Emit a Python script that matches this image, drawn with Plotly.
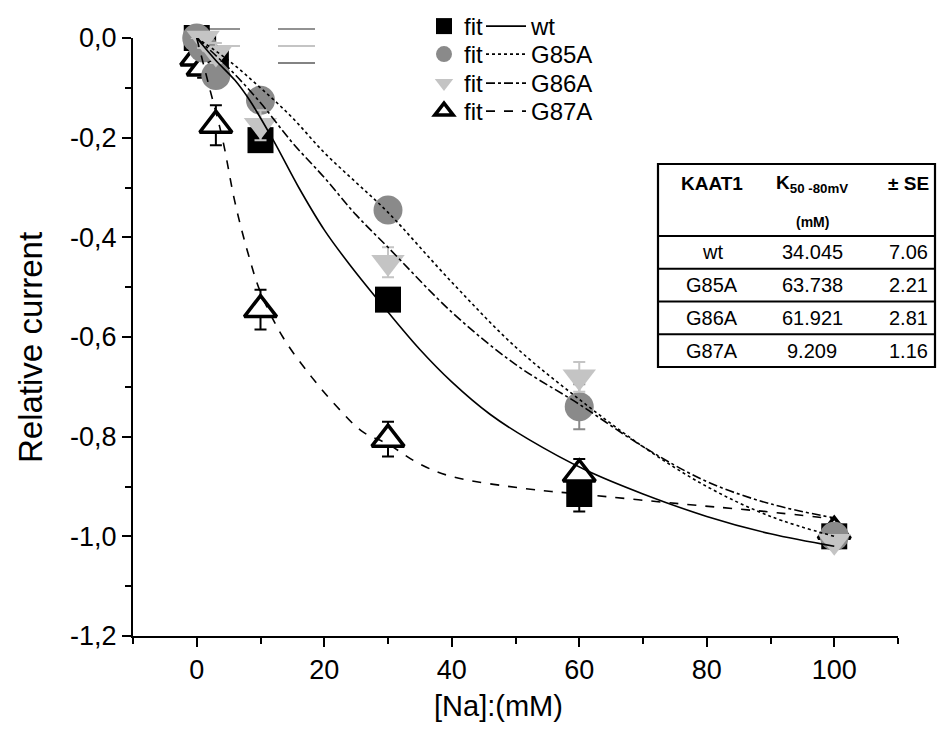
import plotly.graph_objects as go

# ---------------- data ----------------
na_mM = [0, 1, 3, 10, 30, 60, 100]

wt_y   = [0.0, -0.02, -0.05, -0.205, -0.525, -0.915, -1.0]
wt_err = [0.025, 0.02, 0.02, 0.02, 0.02, 0.035, 0.01]

g85_y   = [0.0, -0.02, -0.075, -0.125, -0.345, -0.74, -1.0]
g85_err = [0.02, 0.02, 0.02, 0.02, 0.02, 0.045, 0.01]

g86_y   = [0.02, 0.0, -0.03, -0.175, -0.45, -0.68, -1.01]
g86_err = [0.02, 0.02, 0.02, 0.03, 0.03, 0.03, 0.01]

g87_y   = [-0.04, -0.06, -0.175, -0.545, -0.805, -0.875, -0.99]
g87_err = [0.02, 0.02, 0.04, 0.04, 0.035, 0.03, 0.01]

# fit curves
wt_fit_x = [0, 3, 6, 8.3, 12, 16, 20, 24, 30, 35, 40, 46, 52, 61, 70, 80, 90, 100]
wt_fit_y = [0, -0.045, -0.085, -0.125, -0.205, -0.30, -0.385, -0.455, -0.55, -0.625,
            -0.69, -0.755, -0.805, -0.867, -0.915, -0.96, -0.995, -1.02]

g85_fit_x = [0, 5, 10, 15, 20, 25, 30, 40, 50, 60, 70, 80, 90, 100]
g85_fit_y = [0, -0.045, -0.10, -0.16, -0.23, -0.29, -0.35, -0.49, -0.62, -0.725, -0.82, -0.90, -0.96, -1.0]

g86_fit_x = [0, 5, 10, 15, 20, 25, 30, 40, 50, 60, 70, 80, 90, 100]
g86_fit_y = [0, -0.06, -0.13, -0.21, -0.28, -0.355, -0.42, -0.55, -0.655, -0.735, -0.82, -0.89, -0.935, -0.963]

g87_fit_x = [0, 2, 4, 6, 8, 10, 13.5, 18, 22, 26, 30, 35, 40, 52, 60, 76, 89, 100]
g87_fit_y = [0, -0.10, -0.20, -0.33, -0.43, -0.51, -0.60, -0.68, -0.74, -0.79, -0.815,
             -0.855, -0.88, -0.905, -0.915, -0.935, -0.95, -0.965]

series_names = ["wt", "G85A", "G86A", "G87A"]

# table content
table_header = ["KAAT1", "K<sub>50 -80mV</sub>", "± SE"]
table_units = "(mM)"
table_names = ["wt", "G85A", "G86A", "G87A"]
table_k50 = ["34.045", "63.738", "61.921", "9.209"]
table_se = ["7.06", "2.21", "2.81", "1.16"]

y_tickvals = [0.0, -0.2, -0.4, -0.6, -0.8, -1.0, -1.2]
y_ticktext = ["0,0", "-0,2", "-0,4", "-0,6", "-0,8", "-1,0", "-1,2"]
y_minor = [-0.1, -0.3, -0.5, -0.7, -0.9, -1.1]

x_title = "[Na]:(mM)"
y_title = "Relative current"

# ---------------- figure ----------------
FONT = "Liberation Sans, Arial, sans-serif"
W, H = 944, 731
PL, PR, PT, PB = 133, 898, 38, 636


def pxx(xp):
    return (xp - PL) / (PR - PL)


def pyy(yp):
    return (PB - yp) / (PB - PT)


fig = go.Figure()

styles = {
    "wt": dict(marker=dict(symbol="square", size=26, color="black", line=dict(width=0)),
               ecol="black", dash="solid"),
    "G85A": dict(marker=dict(symbol="circle", size=29, color="#8a8a8a", line=dict(width=0)),
                 ecol="#8a8a8a", dash="dot"),
    "G86A": dict(marker=dict(symbol="triangle-down", size=29, color="#c4c4c4", line=dict(width=0)),
                 ecol="#c4c4c4", dash="dashdot"),
    "G87A": dict(marker=dict(symbol="triangle-up", size=28, color="white",
                             line=dict(width=3.5, color="black")),
                 ecol="black", dash="dash"),
}
points = {"wt": (wt_y, wt_err), "G85A": (g85_y, g85_err),
          "G86A": (g86_y, g86_err), "G87A": (g87_y, g87_err)}
fits = {"wt": (wt_fit_x, wt_fit_y), "G85A": (g85_fit_x, g85_fit_y),
        "G86A": (g86_fit_x, g86_fit_y), "G87A": (g87_fit_x, g87_fit_y)}

row_center = [25, 53, 82, 110]
legend_ids = {}
for i, nm in enumerate(series_names):
    legend_ids[nm] = ("legend" if i == 0 else "legend%d" % (2 * i + 1), "legend%d" % (2 * i + 2))

for nm in ["wt", "G87A", "G85A", "G86A"]:
    ys, errs = points[nm]
    st = styles[nm]
    fig.add_trace(go.Scatter(
        x=na_mM, y=ys, mode="markers", name="fit", marker=st["marker"],
        error_y=dict(type="data", array=errs, color=st["ecol"], thickness=2, width=6),
        cliponaxis=False, legend=legend_ids[nm][0], showlegend=True,
    ))

for nm in series_names:
    xs, ys = fits[nm]
    fig.add_trace(go.Scatter(
        x=xs, y=ys, mode="lines", name=nm,
        line=dict(color="black", width=1.6, dash=styles[nm]["dash"], shape="spline", smoothing=1.0),
        cliponaxis=False, legend=legend_ids[nm][1], showlegend=True,
    ))

legend_layout = {}
for i, nm in enumerate(series_names):
    top = row_center[i] - 21
    common = dict(y=pyy(top), xanchor="left", yanchor="top", bgcolor="rgba(0,0,0,0)",
                  borderwidth=0, font=dict(family=FONT, size=24, color="black"))
    legend_layout[legend_ids[nm][0]] = dict(x=pxx(424), itemwidth=30, **common)
    legend_layout[legend_ids[nm][1]] = dict(x=pxx(481), itemwidth=40, **common)

shapes = []
annotations = []

stray = [(203, 240, 29, "#6e6e6e"), (278, 315, 29, "#6e6e6e"),
         (203, 240, 46, "#b0b0b0"), (278, 315, 46, "#b0b0b0"),
         (278, 315, 63, "#5a5a5a")]
for x0, x1, yy, col in stray:
    shapes.append(dict(type="line", xref="paper", yref="paper", x0=pxx(x0), x1=pxx(x1),
                       y0=pyy(yy), y1=pyy(yy), line=dict(color=col, width=1.5), layer="below"))

t_left, t_right, t_top, t_head = 658, 935, 164, 236
row_h = 32.75
shapes.append(dict(type="rect", xref="paper", yref="paper",
                   x0=pxx(t_left), x1=pxx(t_right), y0=pyy(t_top), y1=pyy(t_head + 4 * row_h),
                   line=dict(color="black", width=2.2), fillcolor="white", layer="above"))
for i in range(4):
    yb = t_head + i * row_h
    shapes.append(dict(type="line", xref="paper", yref="paper",
                       x0=pxx(t_left), x1=pxx(t_right), y0=pyy(yb), y1=pyy(yb),
                       line=dict(color="black", width=2.2), layer="above"))

col_x = [712, 812, 908]
for cx, txt in zip(col_x, table_header):
    annotations.append(dict(xref="paper", yref="paper", x=pxx(cx), y=pyy(184),
                            text="<b>" + txt + "</b>", showarrow=False,
                            font=dict(family=FONT, size=19, color="black"),
                            xanchor="center", yanchor="middle"))
annotations.append(dict(xref="paper", yref="paper", x=pxx(812), y=pyy(222),
                        text="<b>" + table_units + "</b>", showarrow=False,
                        font=dict(family=FONT, size=14, color="black"),
                        xanchor="center", yanchor="middle"))
for i in range(4):
    yc = t_head + (i + 0.5) * row_h
    for cx, col in zip(col_x, [table_names, table_k50, table_se]):
        annotations.append(dict(xref="paper", yref="paper", x=pxx(cx), y=pyy(yc),
                                text=col[i], showarrow=False,
                                font=dict(family=FONT, size=20, color="black"),
                                xanchor="center", yanchor="middle"))

annotations.append(dict(xref="paper", yref="paper", x=pxx(498), y=pyy(706), text=x_title,
                        showarrow=False, font=dict(family=FONT, size=29, color="black"),
                        xanchor="center", yanchor="middle"))
annotations.append(dict(xref="paper", yref="paper", x=pxx(30), y=pyy(348), text=y_title,
                        showarrow=False, textangle=-90,
                        font=dict(family=FONT, size=33, color="black"),
                        xanchor="center", yanchor="middle"))

fig.update_layout(
    width=W, height=H, autosize=False,
    margin=dict(l=PL, r=W - PR, t=PT, b=H - PB, pad=0, autoexpand=False),
    paper_bgcolor="white", plot_bgcolor="white",
    font=dict(family=FONT, color="black"),
    showlegend=True,
    shapes=shapes, annotations=annotations,
    xaxis=dict(range=[-10, 110], tick0=0, dtick=20, showgrid=False, zeroline=False,
               showline=True, linecolor="black", linewidth=2, automargin=False,
               ticks="outside", ticklen=9, tickwidth=2, tickcolor="black",
               minor=dict(ticks="outside", ticklen=6, tickwidth=2, tickcolor="black", dtick=10, tick0=0),
               tickfont=dict(family=FONT, size=27, color="black")),
    yaxis=dict(range=[-1.2, 0.0], tickmode="array", tickvals=y_tickvals, ticktext=y_ticktext,
               showgrid=False, zeroline=False, automargin=False,
               showline=True, linecolor="black", linewidth=2,
               ticks="outside", ticklen=9, tickwidth=2, tickcolor="black",
               minor=dict(ticks="outside", ticklen=6, tickwidth=2, tickcolor="black",
                          tickmode="array", tickvals=y_minor),
               tickfont=dict(family=FONT, size=27, color="black")),
    **legend_layout,
)

fig.write_html("out.html")
